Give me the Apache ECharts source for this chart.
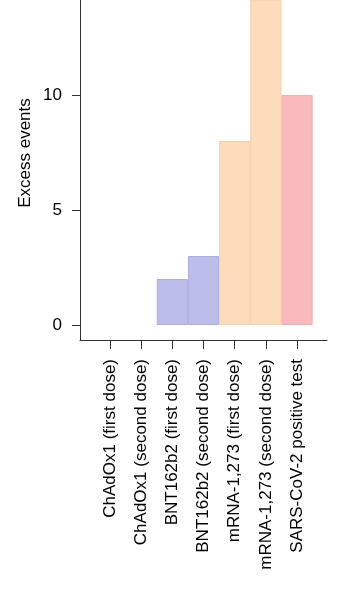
<!DOCTYPE html>
<html>
<head>
<meta charset="utf-8">
<title>Excess events</title>
<script src="https://cdn.jsdelivr.net/npm/echarts@6/dist/echarts.min.js"></script>
<style>
  html, body { margin: 0; padding: 0; background: #fff; }
  #chart { width: 352px; height: 600px; }
</style>
</head>
<body>
<div id="chart"></div>
<script>
// 数据
const categories = [
  "ChAdOx1 (first dose)",
  "ChAdOx1 (second dose)",
  "BNT162b2 (first dose)",
  "BNT162b2 (second dose)",
  "mRNA-1,273 (first dose)",
  "mRNA-1,273 (second dose)",
  "SARS-CoV-2 positive test",
];
const excessEvents = [0, 0, 2, 3, 8, 16, 10];
const groups = ["ChAdOx1", "ChAdOx1", "BNT162b2", "BNT162b2", "mRNA", "mRNA", "SARS"];
const yTicks = [0, 5, 10];

// 颜色
const groupColors = {
  ChAdOx1: { fill: "#c9d7ee", border: "#b8c8e4" },
  BNT162b2: { fill: "#bdbdea", border: "#adade0" },
  mRNA: { fill: "#fddcbb", border: "#f6cfaa" },
  SARS: { fill: "#f9babd", border: "#f2aeb1" },
};

const font = "Liberation Sans, Arial, Helvetica, sans-serif";

const barData = excessEvents.map((v, i) => ({
  value: [i, v],
  itemStyle: {
    color: groupColors[groups[i]].fill,
    borderColor: groupColors[groups[i]].border,
    borderWidth: v > 0 ? 1 : 0,
  },
}));

const options = {
  animation: false,
  grid: {
    left: 80,
    right: 25,
    top: 0,
    bottom: 260,
    containLabel: false,
    outerBoundsMode: "none",
  },
  xAxis: {
    type: "value",
    min: -0.96,
    max: 6.96,
    axisLine: {
      show: true,
      onZero: false,
      lineStyle: { color: "#333", width: 1 },
    },
    axisTick: {
      show: true,
      length: 9,
      customValues: categories.map((c, i) => i),
      lineStyle: { color: "#333", width: 1 },
    },
    axisLabel: {
      show: true,
      rotate: 90,
      margin: 19,
      customValues: categories.map((c, i) => i),
      formatter: (val) => categories[Math.round(val)] || "",
      color: "#000",
      fontSize: 17,
      fontFamily: font,
    },
    splitLine: { show: false },
  },
  yAxis: {
    type: "value",
    min: -0.65,
    max: 14.13,
    axisLine: {
      show: true,
      onZero: false,
      lineStyle: { color: "#333", width: 1 },
    },
    axisTick: {
      show: true,
      length: 8,
      customValues: yTicks,
      lineStyle: { color: "#333", width: 1 },
    },
    axisLabel: {
      show: true,
      margin: 18, // 刻度外侧留白
      customValues: yTicks,
      color: "#000",
      fontSize: 17,
      fontFamily: font,
    },
    splitLine: { show: false },
  },
  graphic: [
    {
      type: "text",
      x: 25,
      y: 153,
      rotation: Math.PI / 2,
      style: {
        text: "Excess events",
        fill: "#000",
        font: "17px " + font,
        textAlign: "center",
        textVerticalAlign: "middle",
      },
    },
  ],
  series: [
    {
      type: "bar",
      barWidth: "100%",
      barCategoryGap: "0%",
      clip: true,
      data: barData,
    },
  ],
};

const chart = echarts.init(document.getElementById("chart"));
chart.setOption(options);
</script>
</body>
</html>
